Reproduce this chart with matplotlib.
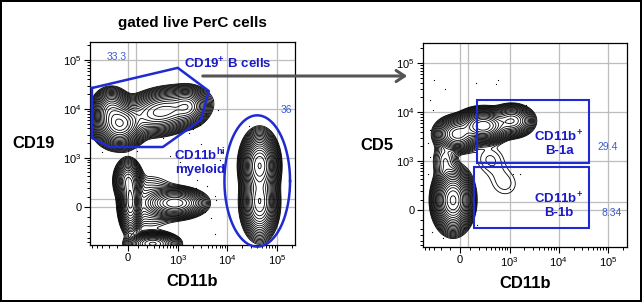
import numpy as np
import matplotlib.pyplot as plt
from matplotlib.patches import Rectangle

plt.rcParams['font.family'] = ['Liberation Sans', 'DejaVu Sans']
plt.rcParams['mathtext.default'] = 'regular'

C = 200.0  # arcsinh cofactor for the biexponential-like axes


def fwd(v):
    return np.arcsinh(np.asarray(v, float) / C) / np.log(10)


def inv(u):
    return C * np.sinh(np.asarray(u, float) * np.log(10))


# ---- left panel: CD11b vs CD19 populations (centre in data units, spread in decades)
left_cd11b = [-75, 480, 1600, -170, 44700, 44700, 23, 285, 0, 880, 246]
left_cd19 = [5000, 8910, 11200, 9550, 694, 46, 46, -545, 326, 37, 46]
left_sx = [0.19, 0.34, 0.15, 0.15, 0.14, 0.14, 0.09, 0.20, 0.11, 0.24, 0.30]
left_sy = [0.18, 0.17, 0.15, 0.17, 0.25, 0.28, 0.25, 0.09, 0.17, 0.12, 0.28]
left_tilt = [10, 12, 5, 0, 0, 0, 0, 0, 0, 0, 0]
left_w = [1.0, 0.55, 0.3, 0.35, 1.0, 0.6, 0.4, 0.5, 0.25, 0.45, 0.03]

# ---- right panel: CD11b vs CD5 (gated CD19+ B cells)
right_cd11b = [262, -23, 1110, -66, -150, 372, 780]
right_cd5 = [5240, 3550, 6600, 95, 990, 1110, 326]
right_sx = [0.20, 0.18, 0.18, 0.15, 0.12, 0.24, 0.26]
right_sy = [0.13, 0.14, 0.13, 0.24, 0.20, 0.22, 0.24]
right_tilt = [0, 0, 0, 0, 0, 0, -40]
right_w = [1.0, 0.45, 0.3, 1.1, 0.04, 0.009, 0.008]

# outlier events
left_dot_cd11b = [5200, 6500, 3800, 2800, 2000, 1700, 250, 500, -300, 90, 700,
                  2400, 3900, 5600, 6000, 2800, 3600, 4800, 5600, 27000, 32000,
                  -470, 110, 10, 1500, 3000, 8000, 1100, 4300, 7000, 2300]
left_dot_cd19 = [15200, 9500, 7800, 4800, 3900, 3200, 2700, 2500, 1300, 1400, 1100,
                 330, 230, 110, 70, 80, -50, -110, -320, 4400, 3900,
                 14000, 380, 560, 650, 1900, 1300, 800, 560, 900, 200]
right_dot_cd11b = [-300, -150, 160, 560, 530, 330, -380, -330, 1800, 2200, -380,
                   -430, -380, 1200, 1000, 170, 110, -430, -180, -350, 40, 1650]
right_dot_cd5 = [45000, 30000, 40000, 45000, 37000, 17600, 17600, 11000, 11000,
                 14000, 4300, 2300, 1200, 520, 230, -150, -60, 520, -340, -250,
                 -190, 520]

# gates
bgate_cd11b = [-508, 1000, 4250, 2940, 486, -187, -508, -508]
bgate_cd19 = [26800, 69200, 23300, 5980, 1670, 1670, 2540, 26800]
myeloid_centre = (40000, 310)
myeloid_half = (0.66, 1.34)  # half-axes, decades
b1a_cd11b = (176, 41600)
b1a_cd5 = (900, 17600)
b1b_cd11b = (140, 41000)
b1b_cd5 = (-190, 740)

major = [0, 1e3, 1e4, 1e5]
major_lbl = ['0', '$10^3$', '$10^4$', '$10^5$']
minor = ([-v for v in range(100, 600, 100)] + list(range(100, 1000, 100))
         + [k * 10 ** e for e in (3, 4) for k in range(2, 10)] + [2e5])
grid_vals = [0, 80, 1e3, 1e4, 1e5]

GATE = '#1f2bd0'
TXT = '#1a1ac8'
NUM = '#3a5ad8'

fig = plt.figure(figsize=(6.42, 3.02), dpi=100)
fig.patch.set_edgecolor('black')
fig.patch.set_linewidth(1.5)

axL = fig.add_axes([90 / 642, 57 / 302, 205 / 642, 203 / 302])
axR = fig.add_axes([423 / 642, 55 / 302, 204 / 642, 204 / 302])


def density(ax, cx, cy, sx, sy, tilt, w):
    u = np.linspace(-0.9, 3.5, 440)
    U, V = np.meshgrid(u, u)
    Z = np.zeros_like(U)
    for x0, y0, a, b, t, wt in zip(fwd(cx), fwd(cy), sx, sy, tilt, w):
        th = np.deg2rad(t)
        du, dv = U - x0, V - y0
        p = du * np.cos(th) + dv * np.sin(th)
        q = -du * np.sin(th) + dv * np.cos(th)
        Z += wt * np.exp(-0.5 * ((p / a) ** 2 + (q / b) ** 2))
    Z /= Z.max()
    levels = np.geomspace(0.005, 0.93, 22)
    ax.contour(inv(U), inv(V), Z, levels=levels, colors='k', linewidths=0.6)


def style(ax, xlim, ylim):
    for setter in (ax.set_xscale, ax.set_yscale):
        setter('function', functions=(fwd, inv))
    ax.set_xlim(*xlim)
    ax.set_ylim(*ylim)
    for g in grid_vals:
        ax.axvline(g, color='#bdbdbd', lw=0.9, zorder=0)
        ax.axhline(g, color='#bdbdbd', lw=0.9, zorder=0)
    ax.set_xticks(major, major_lbl, fontsize=8)
    ax.set_yticks(major, major_lbl, fontsize=8)
    ax.set_xticks(minor, minor=True)
    ax.set_yticks(minor, minor=True)
    ax.tick_params(which='major', length=4, width=0.8, pad=2)
    ax.tick_params(which='minor', length=2.2, width=0.7)
    for s in ax.spines.values():
        s.set_linewidth(0.9)


# left panel
density(axL, left_cd11b, left_cd19, left_sx, left_sy, left_tilt, left_w)
axL.scatter(left_dot_cd11b, left_dot_cd19, s=0.8, c='k', lw=0)
style(axL, (-560, 230000), (-580, 233000))
axL.plot(bgate_cd11b, bgate_cd19, color=GATE, lw=1.8, zorder=5)
t = np.linspace(0, 2 * np.pi, 200)
ex = inv(fwd(myeloid_centre[0]) + myeloid_half[0] * np.cos(t))
ey = inv(fwd(myeloid_centre[1]) + myeloid_half[1] * np.sin(t))
axL.plot(ex, ey, color=GATE, lw=1.8, zorder=5, clip_on=False)
axL.set_xlabel('CD11b', fontsize=12, fontweight='bold', labelpad=5)
axL.set_ylabel('CD19', fontsize=12, fontweight='bold', rotation=0, ha='right',
               va='center', labelpad=6)
axL.set_title('gated live PerC cells', fontsize=11, fontweight='bold', pad=11)

# right panel
density(axR, right_cd11b, right_cd5, right_sx, right_sy, right_tilt, right_w)
axR.scatter(right_dot_cd11b, right_dot_cd5, s=0.8, c='k', lw=0)
style(axR, (-545, 243000), (-550, 256000))
for xs, ys in ((b1a_cd11b, b1a_cd5), (b1b_cd11b, b1b_cd5)):
    axR.add_patch(Rectangle((xs[0], ys[0]), xs[1] - xs[0], ys[1] - ys[0],
                            fill=False, ec=GATE, lw=1.5, zorder=5))
axR.set_xlabel('CD11b', fontsize=12, fontweight='bold', labelpad=5)
axR.set_ylabel('CD5', fontsize=12, fontweight='bold', rotation=0, ha='right',
               va='center', labelpad=2)


# gate annotations (figure pixel positions from the top-left)
def ftxt(x, y, s, **kw):
    fig.text(x / 642, 1 - y / 302, s, **kw)


ftxt(117, 57, '33.3', color=NUM, fontsize=7.5, ha='center', va='center')
ftxt(228, 64, 'CD19$^{+}$ B cells', color=TXT, fontsize=9.5, fontweight='bold',
     ha='center', va='center')
ftxt(286, 110, '36', color=NUM, fontsize=7.5, ha='center', va='center')
ftxt(200, 161, 'CD11b$^{hi}$\nmyeloid', color=TXT, fontsize=9.5,
     fontweight='bold', ha='center', va='center', linespacing=1.05)
ftxt(559, 143, 'CD11b$^{+}$\nB-1a', color=TXT, fontsize=9.5, fontweight='bold',
     ha='center', va='center', linespacing=1.05)
ftxt(608, 147, '29.4', color=NUM, fontsize=7.5, ha='center', va='center')
ftxt(559, 205, 'CD11b$^{+}$\nB-1b', color=TXT, fontsize=9.5, fontweight='bold',
     ha='center', va='center', linespacing=1.05)
ftxt(612, 213, '8.34', color=NUM, fontsize=7.5, ha='center', va='center')

axL.annotate('', xy=(410 / 642, 1 - 76 / 302), xytext=(200 / 642, 1 - 76 / 302),
             xycoords='figure fraction', textcoords='figure fraction',
             arrowprops=dict(arrowstyle='->,head_length=0.6,head_width=0.4',
                             color='#555555', lw=2.2), annotation_clip=False)

fig.savefig('out.png', dpi=100, edgecolor=fig.get_edgecolor())
